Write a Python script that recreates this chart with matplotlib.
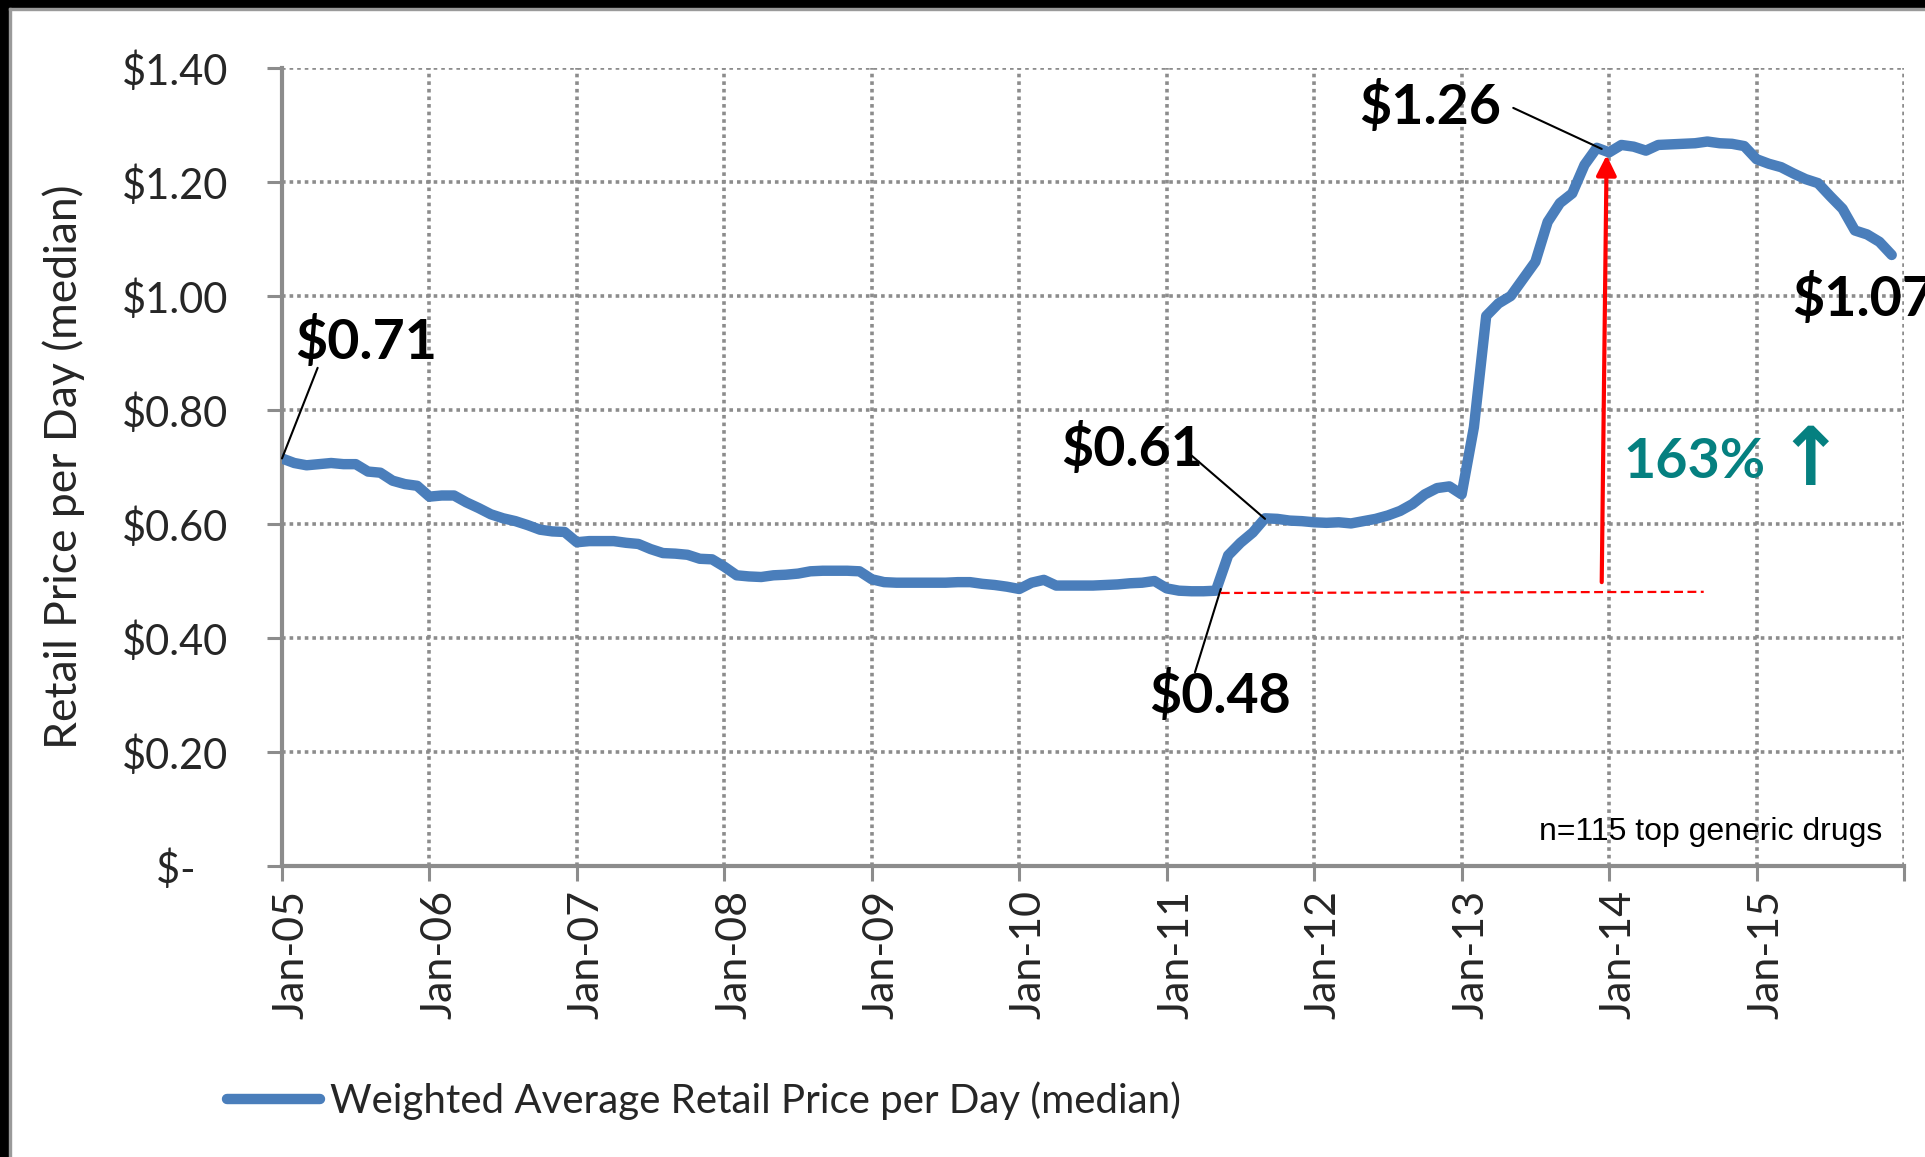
import numpy as np
import matplotlib

matplotlib.use("Agg")
import matplotlib.pyplot as plt
from matplotlib.patches import Rectangle
from matplotlib.transforms import ScaledTranslation

plt.rcParams["font.family"] = ["Lato", "DejaVu Sans"]

# monthly median retail price per day, Jan-05 .. Dec-15
prices_2005 = [0.715, 0.707, 0.703, 0.705, 0.707, 0.705, 0.705, 0.692, 0.690, 0.676, 0.670, 0.667]
prices_2006 = [0.648, 0.650, 0.650, 0.638, 0.628, 0.617, 0.610, 0.605, 0.598, 0.590, 0.587, 0.586]
prices_2007 = [0.568, 0.570, 0.570, 0.570, 0.567, 0.565, 0.556, 0.549, 0.548, 0.546, 0.539, 0.538]
prices_2008 = [0.525, 0.510, 0.508, 0.507, 0.510, 0.511, 0.513, 0.517, 0.518, 0.518, 0.518, 0.517]
prices_2009 = [0.503, 0.498, 0.497, 0.497, 0.497, 0.497, 0.497, 0.498, 0.498, 0.495, 0.493, 0.490]
prices_2010 = [0.486, 0.497, 0.502, 0.492, 0.492, 0.492, 0.492, 0.493, 0.494, 0.496, 0.497, 0.500]
prices_2011 = [0.487, 0.483, 0.482, 0.482, 0.483, 0.545, 0.567, 0.585, 0.610, 0.609, 0.606, 0.605]
prices_2012 = [0.603, 0.602, 0.603, 0.601, 0.605, 0.609, 0.615, 0.623, 0.635, 0.652, 0.663, 0.666]
prices_2013 = [0.652, 0.770, 0.965, 0.987, 1.000, 1.030, 1.060, 1.130, 1.163, 1.180, 1.230, 1.260]
prices_2014 = [1.252, 1.265, 1.262, 1.255, 1.265, 1.266, 1.267, 1.268, 1.271, 1.268, 1.267, 1.263]
prices_2015 = [1.240, 1.232, 1.226, 1.215, 1.205, 1.198, 1.175, 1.153, 1.115, 1.108, 1.095, 1.072]

year_labels = ["Jan-05", "Jan-06", "Jan-07", "Jan-08", "Jan-09", "Jan-10",
               "Jan-11", "Jan-12", "Jan-13", "Jan-14", "Jan-15", ""]
y_ticks = [0.0, 0.2, 0.4, 0.6, 0.8, 1.0, 1.2, 1.4]
y_labels = ["$-   ", "$0.20", "$0.40", "$0.60", "$0.80", "$1.00", "$1.20", "$1.40"]

series_label = "Weighted Average Retail Price per Day (median)"
note = "n=115 top generic drugs"

prices = np.concatenate([prices_2005, prices_2006, prices_2007, prices_2008, prices_2009,
                         prices_2010, prices_2011, prices_2012, prices_2013, prices_2014,
                         prices_2015])
months = np.arange(len(prices))

BLUE = "#4a7ebb"
GRID = "#8c8c8c"
AXIS = "#8c8c8c"
TEXT = "#262626"
TEAL = "#058080"

W, H = 1925, 1157
fig = plt.figure(figsize=(W / 100, H / 100), dpi=100)
ax = fig.add_axes([282 / W, 1 - 866 / H, (1904 - 282) / W, (866 - 68) / H])

line, = ax.plot(months, prices, color=BLUE, lw=7.5, solid_capstyle="round",
                solid_joinstyle="round", zorder=3)

ax.set_xlim(0, 132)
ax.set_ylim(0, 1.4)
ax.set_xticks(np.arange(0, 133, 12))
ax.set_xticklabels(year_labels, rotation=90, fontsize=31, color=TEXT)
ax.set_yticks(y_ticks)
ax.set_yticklabels(y_labels, fontsize=30, color=TEXT)
ax.tick_params(axis="y", length=11, width=2.2, color=AXIS, pad=28)
ax.tick_params(axis="x", length=11, width=2.2, color=AXIS, pad=6)
for lab in ax.get_xticklabels():
    lab.set_transform(lab.get_transform() + ScaledTranslation(7 / 72, 0, fig.dpi_scale_trans))

ax.grid(True, color=GRID, lw=2.6, linestyle=(0, (1, 1.1)), zorder=0)
for side in ("top", "right"):
    ax.spines[side].set_visible(False)
for side in ("left", "bottom"):
    ax.spines[side].set_color(AXIS)
    ax.spines[side].set_linewidth(3)

fig.text(64 / W, 1 - 467 / H, "Retail Price per Day (median)", rotation=90,
         ha="center", va="center", fontsize=32, color=TEXT)

# value callouts
bold = dict(fontsize=40, fontweight="bold", color="black", va="center", ha="left")
leader = dict(arrowstyle="-", color="black", lw=1.5, shrinkA=0, shrinkB=0)

ax.text(1.06, 0.921, "$0.71", **bold)
ax.annotate("", xy=(0, prices[0]), xytext=(2.9, 0.874), arrowprops=leader)

ax.text(63.4, 0.733, "$0.61", **bold)
ax.annotate("", xy=(80.0, 0.609), xytext=(73.7, 0.726), arrowprops=leader)

ax.text(70.6, 0.300, "$0.48", **bold)
ax.annotate("", xy=(76.4, 0.486), xytext=(74.3, 0.340), arrowprops=leader)

ax.text(87.7, 1.332, "$1.26", **bold)
ax.annotate("", xy=(107.4, 1.258), xytext=(100.2, 1.330), arrowprops=leader)

ax.text(122.9, 0.996, "$1.07", clip_on=False, **bold)

# increase marker
ax.plot([76.4, 115.7], [0.479, 0.481], color="red", lw=1.6, linestyle=(0, (4, 2)), zorder=4)
ax.annotate("", xy=(107.8, 1.247), xytext=(107.4, 0.498),
            arrowprops=dict(arrowstyle="-|>,head_length=0.6,head_width=0.3",
                            mutation_scale=20, color="red", lw=3, shrinkA=0, shrinkB=0))
ax.text(109.2, 0.709, "163%", fontsize=40, fontweight="bold", color=TEAL, va="center", ha="left")
ax.text(124.4, 0.707, "\u2191", fontsize=58, fontweight="bold", color=TEAL, va="center",
        ha="center", family=["DejaVu Sans"])

ax.text(1882 / W, 1 - 832 / H, note, transform=fig.transFigure, ha="right", va="center",
        fontsize=23, family=["Liberation Sans"], color="black")

fig.legend(handles=[line], labels=[series_label], loc="center left",
           bbox_to_anchor=(227 / W, 1 - 1101 / H), frameon=False, fontsize=29,
           borderpad=0, borderaxespad=0, handlelength=2.3, handletextpad=0.25,
           labelcolor=TEXT)

# slide frame remnants
fig.add_artist(Rectangle((0, 1 - 8 / H), 1, 8 / H, transform=fig.transFigure, color="black"))
fig.add_artist(Rectangle((0, 0), 9 / W, 1, transform=fig.transFigure, color="black"))
fig.add_artist(Rectangle((9 / W, 0), 2 / W, 1 - 8 / H, transform=fig.transFigure, color="#9a9a9a"))
fig.add_artist(Rectangle((9 / W, 1 - 10 / H), 1, 2 / H, transform=fig.transFigure, color="#9a9a9a"))

fig.savefig("out.png", dpi=100)
